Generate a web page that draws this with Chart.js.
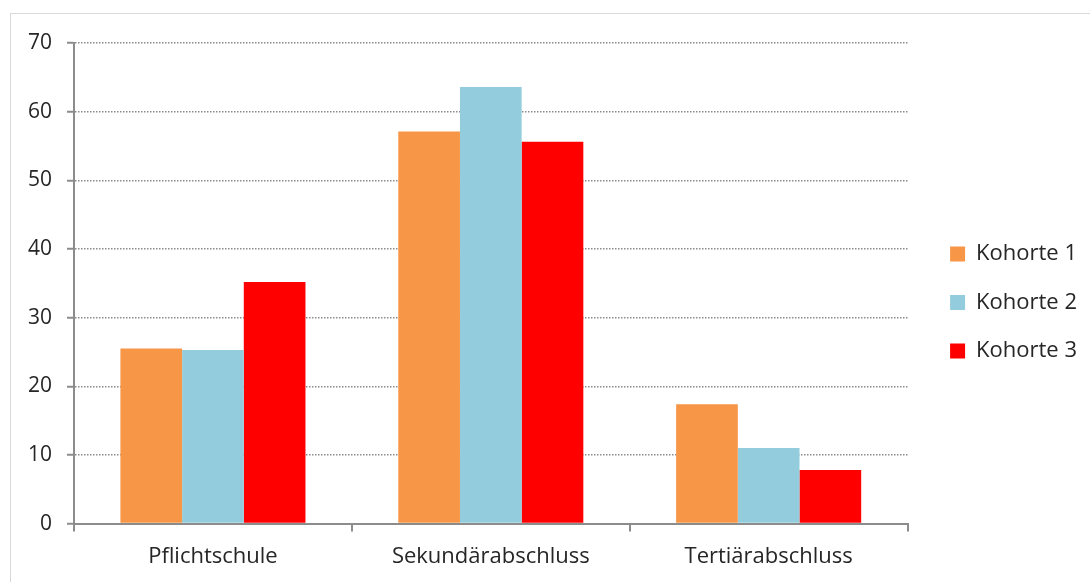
<!DOCTYPE html>
<html>
<head>
    <meta charset="utf-8">
    <title>Kohorten nach Bildungsabschluss</title>
    <script src="https://cdn.jsdelivr.net/npm/chart.js"></script>
    <style>
        html, body {
            margin: 0;
            padding: 0;
            background: white;
            overflow: hidden;
        }
        .frame {
            position: absolute;
            left: 10px;
            top: 13px;
            width: 1200px;
            height: 700px;
            border: 1px solid #d9d9d9;
        }
        .chart-container {
            position: absolute;
            left: 0;
            top: 0;
            width: 1090px;
            height: 582px;
        }
    </style>
</head>
<body>
    <div class="frame"></div>
    <div class="chart-container">
        <canvas id="bildungChart"></canvas>
    </div>

    <script>
        // Data
        const categories = ['Pflichtschule', 'Sekundärabschluss', 'Tertiärabschluss'];
        const kohorte1 = [25.5, 57.1, 17.4];
        const kohorte2 = [25.3, 63.6, 11.0];
        const kohorte3 = [35.2, 55.6, 7.8];
        const seriesNames = ['Kohorte 1', 'Kohorte 2', 'Kohorte 3'];
        const seriesColors = ['#F79646', '#93CDDD', '#FF0000'];

        const fontFamily = '"Open Sans", "Noto Sans", sans-serif';
        const textColor = '#262626';
        const axisColor = '#8c8c8c';

        // nudge the legend a bit further from the plot and up, like the Excel original
        const legendNudge = {
            id: 'legendNudge',
            afterLayout(chart) {
                const lg = chart.legend;
                if (!lg) return;
                lg.left += 16; lg.right += 16;
                lg.top -= 10; lg.bottom -= 10;
            }
        };

        const ctx = document.getElementById('bildungChart').getContext('2d');
        const chart = new Chart(ctx, {
            type: 'bar',
            data: {
                labels: categories,
                datasets: [kohorte1, kohorte2, kohorte3].map((values, i) => ({
                    label: seriesNames[i],
                    data: values,
                    backgroundColor: seriesColors[i],
                    borderWidth: 0,
                    categoryPercentage: 0.666,
                    barPercentage: 1.0
                }))
            },
            plugins: [legendNudge],
            options: {
                responsive: true,
                maintainAspectRatio: false,
                animation: false,
                layout: {
                    padding: { left: 13, top: 43, right: 19, bottom: 0 }
                },
                plugins: {
                    tooltip: { enabled: false },
                    legend: {
                        position: 'right',
                        labels: {
                            boxWidth: 15,
                            boxHeight: 15,
                            padding: 26.5,
                            color: textColor,
                            font: { family: fontFamily, size: 22 }
                        }
                    }
                },
                scales: {
                    x: {
                        grid: {
                            display: true,
                            drawOnChartArea: false,
                            tickLength: 8,
                            color: axisColor,
                            lineWidth: 2
                        },
                        border: { color: axisColor, width: 2 },
                        ticks: {
                            color: textColor,
                            padding: 12,
                            font: { family: fontFamily, size: 22 }
                        }
                    },
                    y: {
                        min: 0,
                        max: 70,
                        grid: {
                            color: '#8c8c8c',
                            lineWidth: 1.5,
                            tickLength: 7,
                            tickColor: axisColor,
                            tickWidth: 2
                        },
                        border: { color: axisColor, width: 2, dash: [1.5, 1.5] },
                        ticks: {
                            stepSize: 10,
                            color: textColor,
                            padding: 15,
                            font: { family: fontFamily, size: 21 }
                        }
                    }
                }
            }
        });
    </script>
</body>
</html>
